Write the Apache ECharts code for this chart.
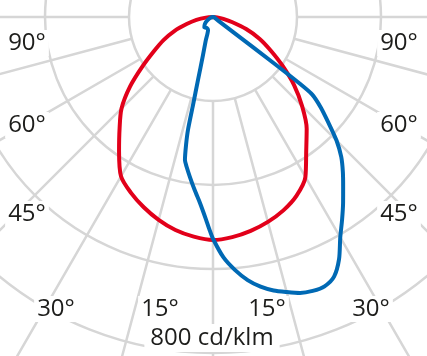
<!DOCTYPE html>
<html>
<head>
<meta charset="utf-8">
<script src="https://cdn.jsdelivr.net/npm/echarts@6/dist/echarts.min.js"></script>
<style>
html,body{margin:0;padding:0;background:#fff;}
#chart{width:427px;height:356px;}
</style>
</head>
<body>
<div id="chart"></div>
<script>
// Luminous intensity (cd/klm) vs. angle from nadir (degrees)
const redAngles = [0,5,10,15,20,25,30,35,40,45,50,55,60,65,70,75,80,85,90];
const redLeft   = [531,525,515,500,482,462,438,390,346,308,258,205,162,130,98,65,40,17,0];
const redRight  = [531,526,517,505,490,470,440,387,347,300,252,202,158,122,84,48,25,10,0];

const blueLeftAngles  = [0,1,2,4,6,8.2,10,11.1,11.9,12.5,12.8,13.4,14.7,17,21,30,40,50,60,75,90];
const blueLeftValues  = [528,505,482,444,415,385,362,347,311,275,215,154,94,60,33,30,32,25,15,5,0];
const blueRightAngles = [0,2.5,5,7.5,10,12.5,15,17.5,20,22.5,25,27.5,30,32.5,35,37.5,40,42.5,45,47.5,50,52,52.5,52.8,53.2,55,60,75,90];
const blueRightValues = [528,573,605,632,652,667,678,689,694,694,682,650,606,572,540,509,481,452,416,373,335,300,260,180,60,15,8,3,0];

const angleLabels = [
  {t:'90°', x:27, y:43}, {t:'90°', x:399, y:43},
  {t:'60°', x:27, y:125}, {t:'60°', x:399, y:125},
  {t:'45°', x:27, y:214}, {t:'45°', x:399, y:214},
  {t:'30°', x:56, y:309}, {t:'15°', x:160, y:309},
  {t:'15°', x:267, y:309}, {t:'30°', x:371, y:309}
];
const scaleLabel = '800 cd/klm';

function curve(la, lv, ra, rv) {
  const pts = [];
  for (let i = la.length - 1; i >= 0; i--) pts.push([lv[i], 360 - la[i]]);
  for (let i = 0; i < ra.length; i++) pts.push([rv[i], ra[i]]);
  return pts;
}

const GRID = '#d6d6d6';
const FONT = '"Open Sans", sans-serif';
const chart = echarts.init(document.getElementById('chart'), null, {renderer:'canvas'});

const graphics = angleLabels.map(l => ({
  type:'text', x:l.x, y:l.y, z:100,
  style:{text:l.t, x:0, y:0, align:'center', verticalAlign:'middle', font:'24px ' + FONT, fill:'#1d1d1b',
         backgroundColor:'#fff', padding:[1,3]}
}));
graphics.push({
  type:'text', x:212, y:338, z:100,
  style:{text:scaleLabel, x:0, y:0, align:'center', verticalAlign:'middle', font:'24px ' + FONT, fill:'#1d1d1b',
         backgroundColor:'#fff', padding:[2,6]}
});

chart.setOption({
  animation:false,
  backgroundColor:'#fff',
  polar:[
    {center:[213,17], radius:420},
    {center:[213,17], radius:[84,420]}
  ],
  angleAxis:[
    {polarIndex:0, type:'value', min:0, max:360, startAngle:270, clockwise:false,
     axisLine:{show:false}, axisTick:{show:false}, axisLabel:{show:false}, splitLine:{show:false}},
    {polarIndex:1, type:'value', min:0, max:360, interval:15, startAngle:270, clockwise:false,
     axisLine:{show:false}, axisTick:{show:false}, axisLabel:{show:false},
     splitLine:{show:true, lineStyle:{color:GRID, width:2.5}}}
  ],
  radiusAxis:[
    {polarIndex:0, type:'value', min:0, max:1000, interval:200,
     axisLine:{show:false}, axisTick:{show:false}, axisLabel:{show:false},
     splitLine:{show:true, lineStyle:{color:GRID, width:2.5}}},
    {polarIndex:1, type:'value', min:0, max:1000, show:false,
     axisLine:{show:false}, axisTick:{show:false}, axisLabel:{show:false}, splitLine:{show:false}}
  ],
  series:[
    {type:'line', coordinateSystem:'polar', polarIndex:0, clip:false, symbol:'none', smooth:0.3,
     data:curve(redAngles, redLeft, redAngles, redRight),
     lineStyle:{color:'#e2001a', width:4, join:'round', cap:'round'}, z:3},
    {type:'line', coordinateSystem:'polar', polarIndex:0, clip:false, symbol:'none', smooth:0.25,
     data:curve(blueLeftAngles, blueLeftValues, blueRightAngles, blueRightValues),
     lineStyle:{color:'#0069b4', width:4, join:'round', cap:'round'}, z:4}
  ],
  graphic:graphics
});
</script>
</body>
</html>
